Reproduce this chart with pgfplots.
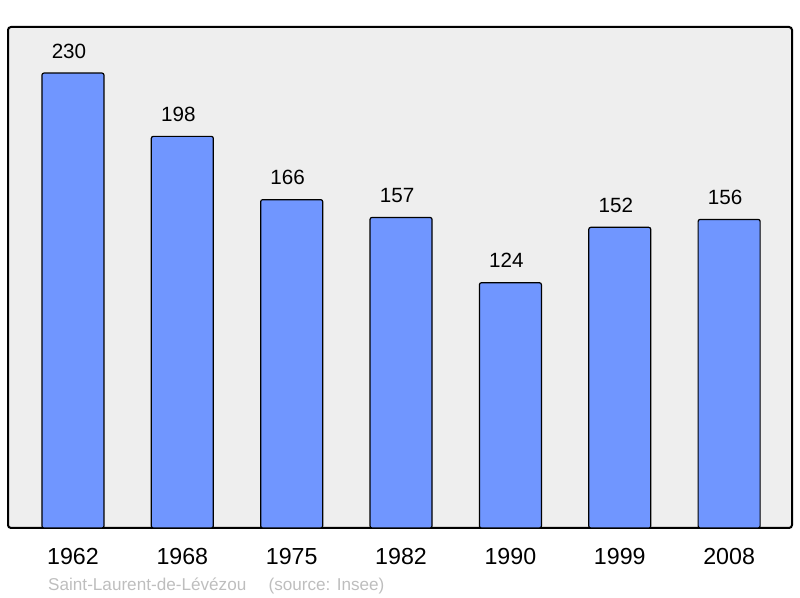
\documentclass[border=0pt]{standalone}
\usepackage{fontspec}
\setmainfont{Liberation Sans}
\usepackage{pgfplots}
\pgfplotsset{compat=1.18}

\definecolor{barblue}{RGB}{112,150,255}
\definecolor{panel}{RGB}{238,238,238}
\definecolor{srcgray}{RGB}{190,190,190}

\begin{document}
\begin{tikzpicture}[x=1bp,y=1bp]
	\useasboundingbox (0,0) rectangle (800,598);
	\begin{axis}[
		at={(8bp,70bp)}, anchor=south west,
		width=784bp, height=501bp, scale only axis,
		/pgf/number format/assume math mode=true,
		axis background/.style={fill=panel},
		axis line style={line width=2bp, rounded corners=3bp},
		xmin=-0.594, xmax=6.575,
		ymin=0, ymax=253.3,
		ytick=\empty,
		xtick=data,
		xticklabels={1962,1968,1975,1982,1990,1999,2008},
		major tick length=0pt,
		every x tick label/.style={anchor=center, yshift=-28.7bp,
			font=\fontsize{23.3}{27}\selectfont},
		ybar, bar width=62bp,
		nodes near coords,
		every node near coord/.append style={anchor=center, yshift=22bp, xshift=-4bp,
			font=\fontsize{20.7}{24}\selectfont, text=black},
	]
	\addplot [fill=barblue, draw=black, line width=1.2bp, rounded corners=2bp]
	coordinates {
	(0,230) (1,198) (2,166) (3,157) (4,124) (5,152) (6,156)
	};
	\end{axis}
	\node[anchor=west, text=srcgray, font=\fontsize{17.2}{20}\selectfont, inner sep=0pt]
		at (48,12) {Saint-Laurent-de-Lévézou\hspace{1.3em}(source: Insee)};
\end{tikzpicture}
\end{document}
